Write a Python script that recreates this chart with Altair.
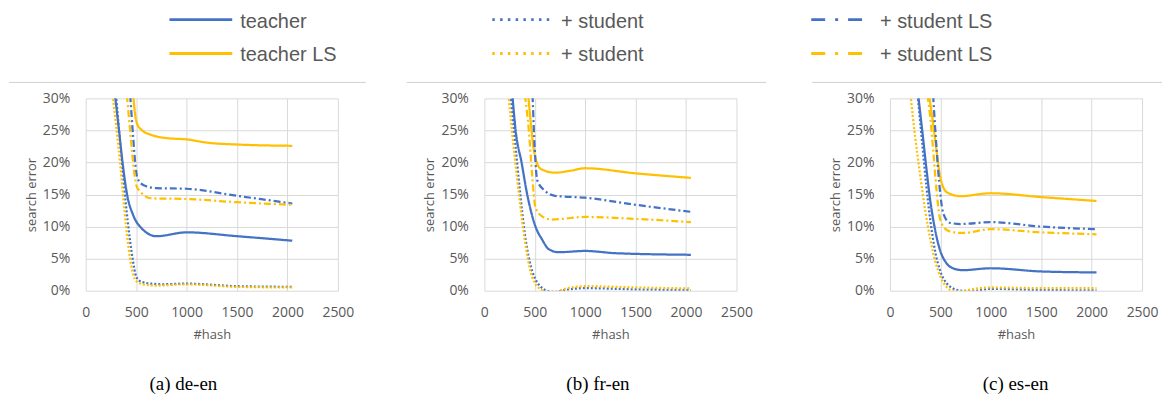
import altair as alt
import pandas as pd

# ---------------- data (y in %) ----------------
HASH_TICKS = [0, 500, 1000, 1500, 2000, 2500]
ERR_TICKS = [0, 5, 10, 15, 20, 25, 30]

# (a) de-en
DE_T_X = [290, 330, 365, 410, 470, 550, 700, 1000, 1500, 2048]
DE_T_Y = [30.5, 25, 20, 15, 11.8, 9.8, 8.5, 9.1, 8.5, 7.8]
DE_TLS_X = [471, 490, 510, 560, 650, 800, 1000, 1200, 1500, 2048]
DE_TLS_Y = [30.5, 27.5, 26.0, 25.0, 24.3, 23.8, 23.6, 23.1, 22.8, 22.6]
DE_S_X = [300, 350, 415, 465, 500, 550, 650, 750, 1000, 1500, 2048]
DE_S_Y = [30.5, 21.5, 11, 5, 2.2, 1.4, 1.1, 1.0, 1.1, 0.7, 0.6]
DE_SO_X = [267, 340, 400, 450, 500, 600, 700, 1000, 1500, 2048]
DE_SO_Y = [30.5, 20, 10, 4, 1.5, 0.9, 0.8, 1.0, 0.6, 0.5]
DE_SLS_X = [441, 470, 490, 514, 580, 700, 1000, 1500, 2048]
DE_SLS_Y = [30.5, 24, 20, 17.5, 16.4, 16.0, 15.9, 14.8, 13.6]
DE_SLSO_X = [408, 440, 470, 500, 550, 650, 1000, 1500, 2048]
DE_SLSO_Y = [30.5, 25, 20, 16.5, 15.3, 14.4, 14.3, 13.8, 13.4]

# (b) fr-en
FR_T_X = [278, 310, 369, 425, 507, 572, 637, 735, 1000, 1300, 2048]
FR_T_Y = [30.5, 25, 20, 15, 10, 8, 6.5, 6.0, 6.2, 5.85, 5.6]
FR_TLS_X = [435, 465, 490, 520, 560, 700, 850, 1000, 1500, 2048]
FR_TLS_Y = [30.5, 25.5, 22, 20, 19, 18.4, 18.7, 19.1, 18.3, 17.6]
FR_S_X = [261, 300, 350, 400, 450, 500, 560, 620, 700, 800, 1000, 1500, 2048]
FR_S_Y = [30.5, 24, 16, 9, 4.5, 2, 0.6, 0, -0.2, 0.1, 0.4, 0.2, 0.1]
FR_SO_X = [239, 300, 350, 400, 450, 500, 560, 620, 700, 800, 1000, 1500, 2048]
FR_SO_Y = [30.5, 21, 14, 8, 3.5, 1.2, 0.2, -0.2, -0.2, 0.3, 0.7, 0.5, 0.35]
FR_SLS_X = [478, 500, 525, 600, 700, 1000, 1500, 2048]
FR_SLS_Y = [30.5, 22, 17.2, 15.6, 14.8, 14.5, 13.4, 12.3]
FR_SLSO_X = [402, 441, 474, 507, 572, 670, 1000, 1500, 2048]
FR_SLSO_Y = [30.5, 25, 18, 13, 11.6, 11.1, 11.5, 11.2, 10.7]

# (c) es-en
ES_T_X = [280, 320, 362, 400, 430, 493, 560, 625, 720, 1000, 1500, 2048]
ES_T_Y = [30.5, 25, 19, 14, 11, 6.5, 4.3, 3.5, 3.2, 3.5, 3.0, 2.85]
ES_TLS_X = [388, 420, 461, 490, 520, 570, 700, 1000, 1500, 2048]
ES_TLS_Y = [30.5, 27, 22, 18.5, 16.5, 15.3, 14.75, 15.2, 14.6, 14.0]
ES_S_X = [275, 320, 360, 400, 450, 500, 560, 620, 700, 800, 1000, 1500, 2048]
ES_S_Y = [30.5, 23, 16.5, 11, 6, 3, 1.2, 0.4, 0.0, -0.1, 0.3, 0.1, 0.05]
ES_SO_X = [204, 250, 300, 350, 400, 450, 500, 560, 620, 700, 800, 1000, 1500, 2048]
ES_SO_Y = [30.5, 24, 18, 12.5, 8, 4.5, 2.2, 0.6, 0, -0.1, 0.2, 0.5, 0.4, 0.4]
ES_SLS_X = [428, 450, 477, 500, 530, 592, 700, 1000, 1500, 2048]
ES_SLS_Y = [30.5, 25, 19, 15, 12, 10.6, 10.4, 10.7, 10.0, 9.6]
ES_SLSO_X = [372, 400, 428, 460, 493, 540, 600, 720, 1000, 1500, 2048]
ES_SLSO_Y = [30.5, 27, 22, 16, 11.5, 9.8, 9.2, 9.0, 9.6, 9.1, 8.8]

SERIES_KEYS = ["teacher", "teacher LS", "student", "student_o", "studentLS", "studentLS_o"]
LEGEND_LABELS = ["teacher", "teacher LS", "+ student", "+ student", "+ student LS", "+ student LS"]
CAPTIONS = ["(a) de-en", "(b) fr-en", "(c) es-en"]

BLUE = "#4472C4"
GOLD = "#FFC000"
COLORS = [BLUE, GOLD, BLUE, GOLD, BLUE, GOLD]
DOT = [2, 2]
DASHDOT = [7, 3, 2, 3]
DASHES = [[1, 0], [1, 0], DOT, DOT, DASHDOT, DASHDOT]
LEG_DASHES = [[1, 0], [1, 0], [2.5, 5.3], [2.5, 5.3], [14, 10, 3, 10], [14, 10, 3, 10]]

PANELS = [
    [(DE_T_X, DE_T_Y), (DE_TLS_X, DE_TLS_Y), (DE_S_X, DE_S_Y), (DE_SO_X, DE_SO_Y), (DE_SLS_X, DE_SLS_Y), (DE_SLSO_X, DE_SLSO_Y)],
    [(FR_T_X, FR_T_Y), (FR_TLS_X, FR_TLS_Y), (FR_S_X, FR_S_Y), (FR_SO_X, FR_SO_Y), (FR_SLS_X, FR_SLS_Y), (FR_SLSO_X, FR_SLSO_Y)],
    [(ES_T_X, ES_T_Y), (ES_TLS_X, ES_TLS_Y), (ES_S_X, ES_S_Y), (ES_SO_X, ES_SO_Y), (ES_SLS_X, ES_SLS_Y), (ES_SLSO_X, ES_SLSO_Y)],
]

# ---------------- layout constants (pixels, relative to plot area) ----------------
W, H = 253, 193
FONT = "Open Sans"
LEG_FONT = "Liberation Sans"
GREY = "#595959"
LEG = [(84, 147, 155), (8, 70, 77), (-79, -27, -10)]
LEG_ROWS = [-77, -43]
LEG_FS = 20
SEP = [(-77, 281), (-78, 283), (-78, 273)]
SEP_Y = -16
CAP_X = [98, 114, 126]
CAP_Y = 287

dummy = pd.DataFrame({"d": [0]})


def panel(i):
    rows = []
    for k, (xs, ys) in zip(SERIES_KEYS, PANELS[i]):
        for j, (x, y) in enumerate(zip(xs, ys)):
            rows.append({"key": k, "hash": x, "err": y, "o": j})
    df = pd.DataFrame(rows)

    lines = alt.Chart(df).mark_line(clip=True, interpolate="monotone", strokeWidth=2.25).encode(
        x=alt.X("hash:Q", scale=alt.Scale(domain=[0, 2500], nice=False),
                axis=alt.Axis(values=HASH_TICKS, format="d", labelOverlap=False, labelFlush=False,
                              title="#hash", labelPadding=15, titlePadding=9, grid=True)),
        y=alt.Y("err:Q", scale=alt.Scale(domain=[0, 30], nice=False),
                axis=alt.Axis(values=ERR_TICKS, labelExpr="datum.value + '%'", labelOverlap=False,
                              labelFlush=False, title="search error", labelPadding=16,
                              titlePadding=4, grid=True)),
        color=alt.Color("key:N", scale=alt.Scale(domain=SERIES_KEYS, range=COLORS), legend=None),
        strokeDash=alt.StrokeDash("key:N", scale=alt.Scale(domain=SERIES_KEYS, range=DASHES), legend=None),
        order="o:Q",
    )

    layers = [lines]
    x0, x1, tx = LEG[i]
    for r in range(2):
        idx = 2 * i + r
        layers.append(
            alt.Chart(dummy).mark_rule(strokeWidth=3, color=COLORS[idx], strokeDash=LEG_DASHES[idx]).encode(
                x=alt.value(x0), x2=alt.value(x1), y=alt.value(LEG_ROWS[r] - 2))
        )
        layers.append(
            alt.Chart(dummy).mark_text(text=LEGEND_LABELS[idx], align="left", baseline="middle",
                                       font=LEG_FONT, fontSize=LEG_FS, color=GREY).encode(
                x=alt.value(tx), y=alt.value(LEG_ROWS[r]))
        )
    s0, s1 = SEP[i]
    layers.append(
        alt.Chart(dummy).mark_rule(strokeWidth=1, color="#D0D0D0").encode(
            x=alt.value(s0), x2=alt.value(s1), y=alt.value(SEP_Y))
    )
    if i == 2:
        layers.append(
            alt.Chart(dummy).mark_rule(strokeWidth=1, color="white").encode(
                x=alt.value(-83), x2=alt.value(-79), y=alt.value(SEP_Y))
        )
    layers.append(
        alt.Chart(dummy).mark_text(text=CAPTIONS[i], align="center", baseline="middle",
                                   font="Liberation Serif", fontSize=19, color="black").encode(
            x=alt.value(CAP_X[i]), y=alt.value(CAP_Y))
    )
    return alt.layer(*layers).properties(width=W, height=H)


chart = alt.hconcat(panel(0), panel(1), panel(2), spacing=39).properties(
    padding={"top": 3, "left": 0, "right": 0, "bottom": 0}
).configure_view(
    stroke=None
).configure_axis(
    gridColor="#D9D9D9", gridWidth=1, domain=False, ticks=False,
    labelFont=FONT, labelFontSize=14, labelColor=GREY,
    titleFont=FONT, titleFontSize=13, titleFontWeight="normal", titleColor=GREY,
)

chart.save("out.html", embed_options={"renderer": "svg", "actions": False})
